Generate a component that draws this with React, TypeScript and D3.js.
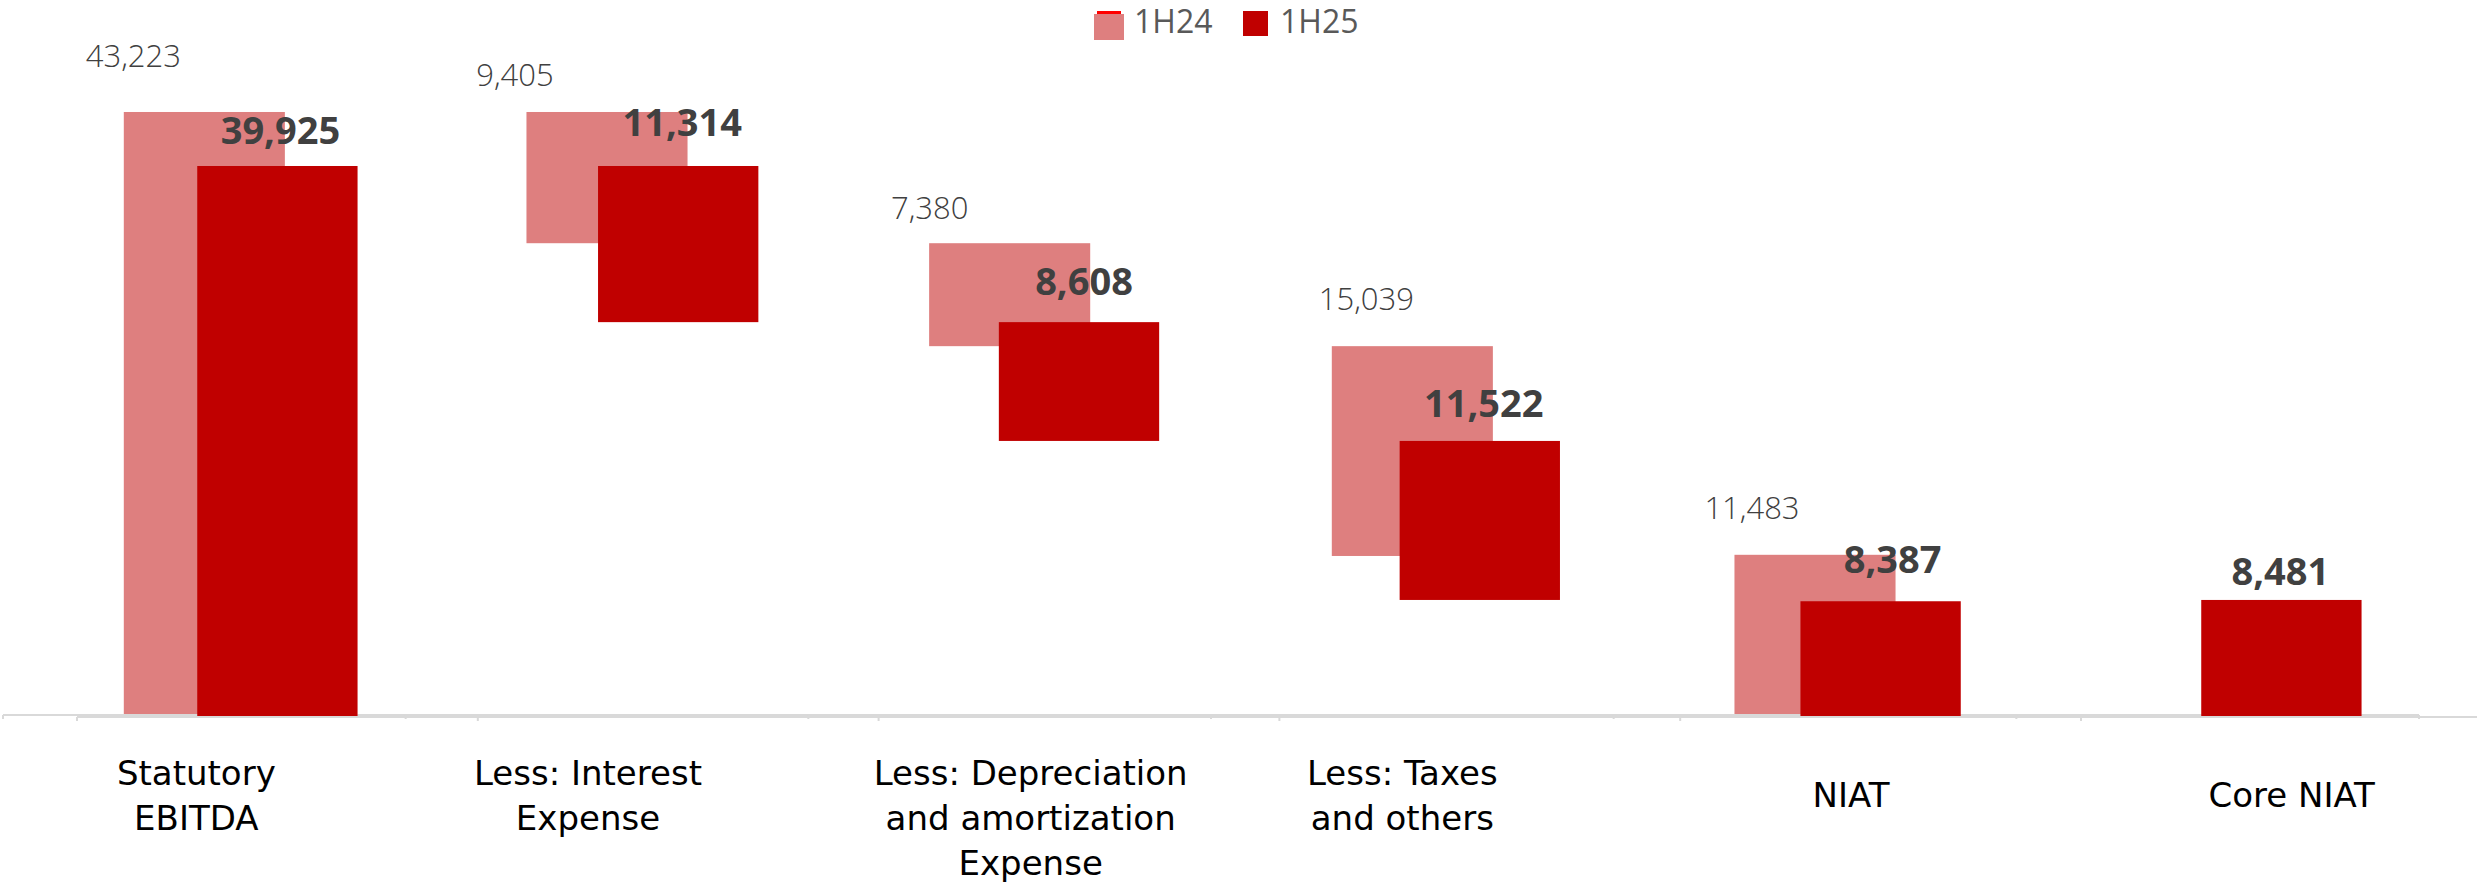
import React from "react";
import * as d3 from "d3";

// ---------- data ----------
const categories = [
  "Statutory EBITDA",
  "Less: Interest Expense",
  "Less: Depreciation and amortization Expense",
  "Less: Taxes and others",
  "NIAT",
  "Core NIAT",
];
const categoryLines = [
  ["Statutory", "EBITDA"],
  ["Less: Interest", "Expense"],
  ["Less: Depreciation", "and amortization", "Expense"],
  ["Less: Taxes", "and others"],
  ["NIAT"],
  ["Core NIAT"],
];
// "total" bars start at zero, "decrease" bars hang from the running level
const barKind = ["total", "decrease", "decrease", "decrease", "total", "total"];
const values1H24: (number | null)[] = [43223, 9405, 7380, 15039, 11483, null];
const values1H25: (number | null)[] = [39925, 11314, 8608, 11522, 8387, 8481];
const seriesNames = ["1H24", "1H25"];

// ---------- layout (manual label nudges, like hand-placed labels) ----------
const lightLabelNudge = [
  [-71, -45],
  [-92, -26],
  [-80, -24],
  [-46, -36],
  [-63, -36],
  [0, 0],
];
const darkLabelNudge = [
  [3, -22],
  [4, -30],
  [5, -27],
  [4, -24],
  [12, -28],
  [-1, -15],
];
const catLabelNudge = [-8, -19, 21, -10, 36, 74];

const W = 2477;
const H = 884;
const LIGHT = "#DE7F7F";
const DARK = "#C00000";
const AXIS = "#D9D9D9";
const FONT = "'Open Sans', 'DejaVu Sans', sans-serif";
const CAT_FONT = "'DejaVu Sans', 'Open Sans', sans-serif";

type Seg = { i: number; y0: number; y1: number; v: number };

function waterfall(vals: (number | null)[]): Seg[] {
  let level = 0;
  const out: Seg[] = [];
  vals.forEach((v, i) => {
    if (v == null) return;
    if (barKind[i] === "total") {
      out.push({ i, y0: 0, y1: v, v });
      level = v;
    } else {
      out.push({ i, y0: level - v, y1: level, v });
      level = level - v;
    }
  });
  return out;
}

export default function App() {
  // Chart A (1H24) and chart B (1H25) are two overlaid plots, offset slightly
  const xA = d3.scaleBand<string>().domain(categories).range([3, 2419]).padding(0);
  const xB = d3.scaleBand<string>().domain(categories).range([77, 77 + 6 * 400.8]).padding(0);
  const yA = d3.scaleLinear().domain([0, 50000]).range([715, 715 - 50000 * 0.013951]);
  const yB = d3.scaleLinear().domain([0, 50000]).range([717, 717 - 50000 * 0.013801]);
  const bwA = xA.bandwidth() * 0.4;
  const bwB = xB.bandwidth() * 0.4;
  const fmt = d3.format(",");

  const segA = waterfall(values1H24);
  const segB = waterfall(values1H25);

  const ticksA = d3.range(categories.length + 1).map((k) => xA.range()[0] + k * xA.step());
  const ticksB = d3.range(categories.length + 1).map((k) => xB.range()[0] + k * xB.step());

  const cA = (i: number) => (xA(categories[i]) as number) + xA.bandwidth() / 2;
  const cB = (i: number) => (xB(categories[i]) as number) + xB.bandwidth() / 2;

  return (
    <svg
      width={W}
      height={H}
      viewBox={`0 0 ${W} ${H}`}
      style={{ position: "absolute", left: 0, top: 0, background: "#fff" }}
      fontFamily={FONT}
    >
      <rect x={0} y={0} width={W} height={H} fill="#fff" />

      {/* Chart A: 1H24 */}
      <g>
        {segA.map((s) => (
          <rect
            key={"a" + s.i}
            x={cA(s.i) - bwA / 2}
            y={yA(s.y1)}
            width={bwA}
            height={yA(s.y0) - yA(s.y1)}
            fill={LIGHT}
          />
        ))}
        <line x1={xA.range()[0]} x2={xA.range()[1]} y1={yA(0)} y2={yA(0)} stroke={AXIS} strokeWidth={2} />
        {ticksA.map((t, k) => (
          <line key={"ta" + k} x1={t} x2={t} y1={yA(0)} y2={yA(0) + 4} stroke={AXIS} strokeWidth={2} />
        ))}
        {segA.map((s) => (
          <text
            key={"la" + s.i}
            x={cA(s.i) + lightLabelNudge[s.i][0]}
            y={yA(s.y1) + lightLabelNudge[s.i][1]}
            textAnchor="middle"
            fontSize={31}
            fontWeight={300}
            fill="#404040"
          >
            {fmt(s.v)}
          </text>
        ))}
      </g>

      {/* Chart B: 1H25 */}
      <g>
        {segB.map((s) => (
          <rect
            key={"b" + s.i}
            x={cB(s.i) - bwB / 2}
            y={yB(s.y1)}
            width={bwB}
            height={yB(s.y0) - yB(s.y1)}
            fill={DARK}
          />
        ))}
        <line x1={xB.range()[0]} x2={W} y1={yB(0)} y2={yB(0)} stroke={AXIS} strokeWidth={2} />
        {ticksB.map((t, k) => (
          <line key={"tb" + k} x1={t} x2={t} y1={yB(0)} y2={yB(0) + 4} stroke={AXIS} strokeWidth={2} />
        ))}
        {segB.map((s) => (
          <text
            key={"lb" + s.i}
            x={cB(s.i) + darkLabelNudge[s.i][0]}
            y={yB(s.y1) + darkLabelNudge[s.i][1]}
            textAnchor="middle"
            fontSize={38}
            fontWeight={700}
            fill="#404040"
          >
            {fmt(s.v)}
          </text>
        ))}
      </g>

      {/* Category labels */}
      {categoryLines.map((lines, i) =>
        lines.map((ln, j) => {
          const base = lines.length === 1 ? 807 : 785;
          return (
            <text
              key={"c" + i + "-" + j}
              x={cA(i) + catLabelNudge[i]}
              y={base + j * 45}
              textAnchor="middle"
              fontSize={34}
              fontFamily={CAT_FONT}
              fill="#000"
            >
              {ln}
            </text>
          );
        })
      )}

      {/* Legend */}
      <g>
        <rect x={1094} y={14} width={30} height={26} fill={LIGHT} />
        <rect x={1097} y={11} width={24} height={3} fill="#FF0000" />
        <text x={1134} y={33} fontSize={32} fill="#595959">
          {seriesNames[0]}
        </text>
        <rect x={1243} y={11} width={25} height={25} fill={DARK} />
        <text x={1280} y={33} fontSize={32} fill="#595959">
          {seriesNames[1]}
        </text>
      </g>
    </svg>
  );
}
